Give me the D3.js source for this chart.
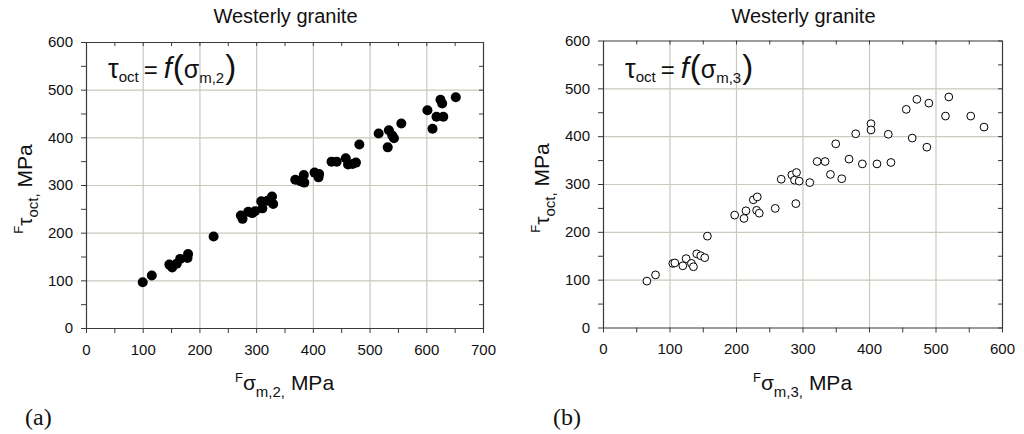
<!DOCTYPE html>
<html>
<head>
<meta charset="utf-8">
<script src="https://cdn.jsdelivr.net/npm/d3@7"></script>
<style>
  body { margin: 0; background: #fff; }
  text { font-family: "Liberation Sans", Arial, sans-serif; }
</style>
</head>
<body>
<svg id="chart" width="1024" height="434"></svg>
<script>
'use strict';

// --- data ---
const chartTitle = "Westerly granite";
const yTicks = [0, 100, 200, 300, 400, 500, 600];
const xTicksA = [0, 100, 200, 300, 400, 500, 600, 700];
const xTicksB = [0, 100, 200, 300, 400, 500, 600];

// (a) tau_oct vs sigma_m,2  [sigma, tau]
const pointsA = [
  [100, 96], [116, 110], [147, 133], [152, 127], [160, 135], [166, 145], [180, 155], [179, 147],
  [225, 192],
  [273, 236], [276, 229], [286, 244], [293, 241], [298, 245], [309, 266], [311, 251], [320, 267],
  [328, 276], [330, 260],
  [369, 311], [378, 308], [384, 321], [385, 305], [403, 326], [410, 316], [411, 323],
  [433, 349], [442, 349], [458, 356], [462, 343], [470, 344], [476, 347], [482, 385],
  [516, 408], [534, 415], [540, 404], [543, 398], [532, 379], [556, 429],
  [602, 457], [611, 418], [618, 443], [625, 479], [628, 471], [630, 443], [652, 484]
];

// (b) tau_oct vs sigma_m,3  [sigma, tau]
const pointsB = [
  [66, 97], [79, 110], [105, 134], [108, 135], [120, 129], [125, 144], [133, 134], [136, 127],
  [141, 154], [147, 150], [153, 146], [157, 191],
  [198, 235], [212, 228], [215, 244], [226, 267], [232, 273], [231, 245], [235, 239], [259, 249],
  [290, 259],
  [268, 310], [284, 319], [291, 324], [288, 308], [295, 306], [311, 303],
  [322, 347], [334, 347], [342, 320], [359, 311], [350, 384], [370, 352], [390, 342], [412, 342],
  [433, 345],
  [380, 405], [403, 426], [403, 413], [429, 404], [465, 396], [487, 377],
  [456, 456], [472, 477], [490, 469], [520, 482], [515, 442], [553, 442], [573, 419]
];

const svg = d3.select("#chart");
svg.append("rect").attr("width", 1024).attr("height", 434).attr("fill", "#fff");

const gridColor = "#c9c9bd",
      axisColor = "#3a3a3a";

const panel = (o) => {
  const g = svg.append("g");
  const xMax = o.xTicks[o.xTicks.length - 1];

  const x = d3.scaleLinear().domain([0, xMax]).range([o.left, o.right]),
        y = d3.scaleLinear().domain([0, 600]).range([o.bottom, o.top]);

  const minorX = d3.range(0, xMax + 1, 50),
        minorY = d3.range(0, 601, 50);

  // grid lines at the labelled ticks
  g.append("g")
      .attr("transform", "translate(0," + o.bottom + ")")
      .call(d3.axisBottom(x).tickValues(o.xTicks.slice(1, -1)).tickSize(-(o.bottom - o.top)).tickFormat(""))
      .call(s => s.select(".domain").remove())
      .selectAll("line").attr("stroke", gridColor).attr("stroke-width", 1.2);

  g.append("g")
      .attr("transform", "translate(" + o.left + ",0)")
      .call(d3.axisLeft(y).tickValues(yTicks.slice(1, -1)).tickSize(-(o.right - o.left)).tickFormat(""))
      .call(s => s.select(".domain").remove())
      .selectAll("line").attr("stroke", gridColor).attr("stroke-width", 1.2);

  const styleAxis = (s) => {
    s.attr("color", axisColor).attr("font-size", 15);
    s.selectAll("text").attr("fill", "#111");
    s.select(".domain").attr("stroke-width", 1.2);
  };

  g.append("g")
      .attr("transform", "translate(0," + o.bottom + ")")
      .call(d3.axisBottom(x).tickValues(minorX).tickSize(5).tickSizeOuter(0).tickPadding(11)
        .tickFormat(d => d % 100 ? "" : d))
      .call(styleAxis);

  g.append("g")
      .attr("transform", "translate(0," + o.top + ")")
      .call(d3.axisTop(x).tickValues(minorX).tickSize(-4).tickSizeOuter(0).tickFormat(""))
      .call(styleAxis);

  g.append("g")
      .attr("transform", "translate(" + o.left + ",0)")
      .call(d3.axisLeft(y).tickValues(minorY).tickSize(5).tickSizeOuter(0).tickPadding(8)
        .tickFormat(d => d % 100 ? "" : d))
      .call(styleAxis);

  g.append("g")
      .attr("transform", "translate(" + o.right + ",0)")
      .call(d3.axisRight(y).tickValues(minorY).tickSize(-4).tickSizeOuter(0).tickFormat(""))
      .call(styleAxis);

  // points
  g.append("g").selectAll("circle")
    .data(o.points)
    .enter().append("circle")
      .attr("cx", d => x(d[0]))
      .attr("cy", d => y(d[1]))
      .attr("r", o.filled ? 5 : 3.9)
      .attr("fill", o.filled ? "#000" : "#fff")
      .attr("stroke", "#000")
      .attr("stroke-width", o.filled ? 0 : 1);

  const cx = (o.left + o.right) / 2;

  // title
  g.append("text")
      .attr("x", cx + 1)
      .attr("y", 23)
      .attr("text-anchor", "middle")
      .attr("font-size", 20)
      .attr("fill", "#111")
      .text(chartTitle);

  // formula annotation
  const f = g.append("text")
      .attr("x", o.left + 22)
      .attr("y", 78)
      .attr("fill", "#111");
  f.append("tspan").attr("font-size", 27).text("\u03c4");
  f.append("tspan").attr("font-size", 15).attr("dy", 4).text("oct");
  f.append("tspan").attr("font-size", 24).attr("dy", -4).attr("dx", 5).text("=");
  f.append("tspan").attr("font-size", 29).attr("font-style", "italic").attr("dx", 6).text("f");
  f.append("tspan").attr("font-size", 33).attr("dx", 1).text("(");
  f.append("tspan").attr("font-size", 25).text("\u03c3");
  f.append("tspan").attr("font-size", 15).attr("dy", 5).text(o.sub);
  f.append("tspan").attr("font-size", 33).attr("dy", -5).attr("dx", 1).text(")");

  // x label
  const xl = g.append("text")
      .attr("x", cx)
      .attr("y", 390)
      .attr("text-anchor", "middle")
      .attr("fill", "#111");
  xl.append("tspan").attr("font-size", 13).attr("dy", -8).text("F");
  xl.append("tspan").attr("font-size", 21).attr("dy", 8).text("\u03c3");
  xl.append("tspan").attr("font-size", 15).attr("dy", 7).text(o.sub + ",");
  xl.append("tspan").attr("font-size", 21).attr("dy", -7).text(" MPa");

  // y label
  const yl = g.append("text")
      .attr("transform", "translate(" + (o.left - 54) + "," + ((o.top + o.bottom) / 2 + 4) + ") rotate(-90)")
      .attr("text-anchor", "middle")
      .attr("fill", "#111");
  yl.append("tspan").attr("font-size", 13).attr("dy", -9).text("F");
  yl.append("tspan").attr("font-size", 21).attr("dy", 9).text("\u03c4");
  yl.append("tspan").attr("font-size", 15).attr("dy", 6).text("oct,");
  yl.append("tspan").attr("font-size", 21).attr("dy", -6).text(" MPa");

  // panel letter
  svg.append("text")
      .attr("x", o.letterX)
      .attr("y", 425)
      .style("font-family", "'Liberation Serif', 'Times New Roman', serif")
      .attr("font-size", 24)
      .attr("fill", "#111")
      .text(o.letter);
};

panel({left: 86, right: 483, top: 42, bottom: 328, xTicks: xTicksA, points: pointsA,
       filled: true, sub: "m,2", letter: "(a)", letterX: 25});
panel({left: 603, right: 1002, top: 40.5, bottom: 327.5, xTicks: xTicksB, points: pointsB,
       filled: false, sub: "m,3", letter: "(b)", letterX: 553});
</script>
</body>
</html>
